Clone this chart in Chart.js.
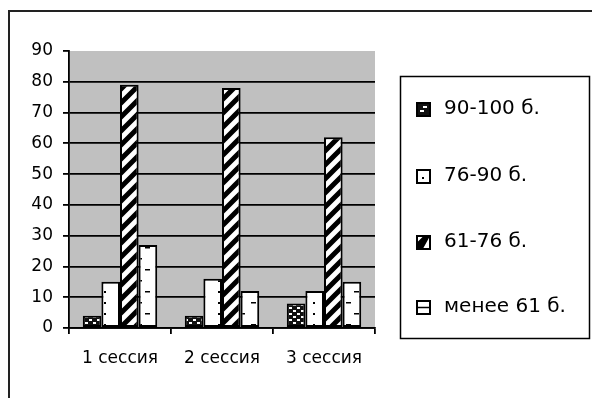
<!DOCTYPE html>
<html>
<head>
<meta charset="utf-8">
<script src="https://cdn.jsdelivr.net/npm/chart.js@4/dist/chart.umd.min.js"></script>
<style>
html,body{margin:0;padding:0;background:#fff;}
#wrap{position:relative;width:592px;height:398px;overflow:hidden;}
canvas{position:absolute;left:0;top:0;}
</style>
</head>
<body>
<div id="wrap"><canvas id="c" width="592" height="398"></canvas></div>
<script>
const categories = ['1 сессия', '2 сессия', '3 сессия'];
const seriesNames = ['90-100 б.', '76-90 б.', '61-76 б.', 'менее 61 б.'];
const s90_100 = [4, 4, 8];
const s76_90 = [15, 16, 12];
const s61_76 = [79, 78, 62];
const sLess61 = [27, 12, 15];
const yTicks = [0, 10, 20, 30, 40, 50, 60, 70, 80, 90];

function makePattern(w, h, draw) {
  const c = document.createElement('canvas');
  c.width = w; c.height = h;
  const x = c.getContext('2d');
  draw(x, w, h);
  return document.getElementById('c').getContext('2d').createPattern(c, 'repeat');
}
const patDark = makePattern(8, 6, (x, w, h) => {
  x.fillStyle = '#111'; x.fillRect(0, 0, w, h);
  x.fillStyle = '#fff';
  x.fillRect(1, 1, 3, 2);
  x.fillRect(5, 4, 3, 2);
});
const patDots = makePattern(19, 11, (x, w, h) => {
  x.fillStyle = '#fff'; x.fillRect(0, 0, w, h);
  x.fillStyle = '#000';
  x.fillRect(9, 5, 2, 2);
});
const patStripe = makePattern(14, 14, (x, w, h) => {
  x.fillStyle = '#fff'; x.fillRect(0, 0, w, h);
  x.strokeStyle = '#000'; x.lineWidth = 5;
  x.beginPath();
  for (let k = -2; k <= 2; k++) {
    x.moveTo(k * 14 - 3, 17); x.lineTo(k * 14 + 17, -3);
  }
  x.stroke();
});
const patDash = makePattern(19, 22, (x, w, h) => {
  x.fillStyle = '#fff'; x.fillRect(0, 0, w, h);
  x.fillStyle = '#000';
  x.fillRect(12, 5, 5, 1.5);
  x.fillRect(4, 16, 5, 1.5);
});
const patterns = [patDark, patDots, patStripe, patDash];
const seriesData = [s90_100, s76_90, s61_76, sLess61];

const iconDrawers = [
  (ctx, x, y, s) => { ctx.fillStyle = '#111'; ctx.fillRect(x, y, s, s); ctx.fillStyle = '#fff'; ctx.fillRect(x + 6, y + 3, 4, 2); ctx.fillRect(x + 3, y + 7, 4, 2); },
  (ctx, x, y, s) => { ctx.fillStyle = '#fff'; ctx.fillRect(x, y, s, s); ctx.fillStyle = '#000'; ctx.fillRect(x + 5, y + 7, 2, 2); },
  (ctx, x, y, s) => { ctx.fillStyle = '#fff'; ctx.fillRect(x, y, s, s); ctx.fillStyle = '#000'; ctx.beginPath(); ctx.moveTo(x, y + s); ctx.lineTo(x + s, y); ctx.lineTo(x + s * 0.45, y + s); ctx.closePath(); ctx.moveTo(x, y + s); ctx.lineTo(x, y + s * 0.5); ctx.lineTo(x + s * 0.5, y); ctx.lineTo(x + s, y); ctx.closePath(); ctx.fill(); },
  (ctx, x, y, s) => { ctx.fillStyle = '#fff'; ctx.fillRect(x, y, s, s); ctx.fillStyle = '#000'; ctx.fillRect(x, y + s / 2 - 0.75, s, 1.5); }
];

const bgPlugin = {
  id: 'bg',
  beforeDraw(chart) {
    const ctx = chart.ctx, a = chart.chartArea;
    ctx.save();
    ctx.fillStyle = '#fff';
    ctx.fillRect(0, 0, chart.width, chart.height);
    ctx.strokeStyle = '#222'; ctx.lineWidth = 2;
    ctx.beginPath();
    ctx.moveTo(9, 400); ctx.lineTo(9, 11); ctx.lineTo(600, 11);
    ctx.stroke();
    ctx.fillStyle = '#c0c0c0';
    ctx.fillRect(a.left, a.top, a.right - a.left, a.bottom - a.top);
    ctx.restore();
  }
};

const legendPlugin = {
  id: 'boxLegend',
  afterDraw(chart) {
    const ctx = chart.ctx;
    ctx.save();
    ctx.strokeStyle = '#000'; ctx.lineWidth = 1.5;
    ctx.strokeRect(400.5, 76.5, 189, 262);
    const rows = [109, 176, 242, 307];
    chart.data.datasets.forEach((ds, i) => {
      const y = rows[i];
      const s = 13, x0 = 417, y0 = Math.round(y - 6.5);
      iconDrawers[i](ctx, x0, y0, s);
      ctx.strokeStyle = '#000';
      ctx.lineWidth = 2;
      ctx.strokeRect(x0, y0, s, s);
      ctx.fillStyle = '#000';
      ctx.font = '20px "DejaVu Sans"';
      ctx.textBaseline = 'middle';
      ctx.textAlign = 'left';
      ctx.fillText(ds.label, 444, y);
    });
    ctx.restore();
  }
};

new Chart(document.getElementById('c'), {
  type: 'bar',
  data: {
    labels: categories,
    datasets: seriesNames.map((n, i) => ({
      label: n,
      data: seriesData[i],
      backgroundColor: patterns[i],
      borderColor: '#000',
      borderWidth: 2,
      borderSkipped: false,
      categoryPercentage: 0.73,
      barPercentage: 1.0
    }))
  },
  options: {
    responsive: false,
    animation: false,
    devicePixelRatio: 1,
    layout: { padding: { left: 0, top: 51, right: 217, bottom: 0 } },
    plugins: { legend: { display: false }, tooltip: { enabled: false } },
    scales: {
      x: {
        afterFit(s) { s.height = 70; },
        grid: { offset: true, drawOnChartArea: false, drawTicks: true, tickLength: 6, color: '#000', lineWidth: 1.8 },
        border: { display: true, color: '#000', width: 1.8 },
        ticks: { color: '#000', font: { family: 'DejaVu Sans', size: 17 }, padding: 14, maxRotation: 0 }
      },
      y: {
        min: 0, max: 90,
        afterFit(s) { s.width = 69; },
        afterBuildTicks(s) { s.ticks = yTicks.map(v => ({ value: v })); },
        grid: {
          color: (c) => (c.tick && c.tick.value === 90) ? 'rgba(0,0,0,0)' : '#000',
          tickColor: '#000',
          lineWidth: 1.8, tickLength: 6
        },
        border: { display: true, color: '#000', width: 1.8 },
        ticks: { color: '#000', font: { family: 'DejaVu Sans', size: 17 }, padding: 10, stepSize: 10 }
      }
    }
  },
  plugins: [bgPlugin, legendPlugin]
});
</script>
</body>
</html>
